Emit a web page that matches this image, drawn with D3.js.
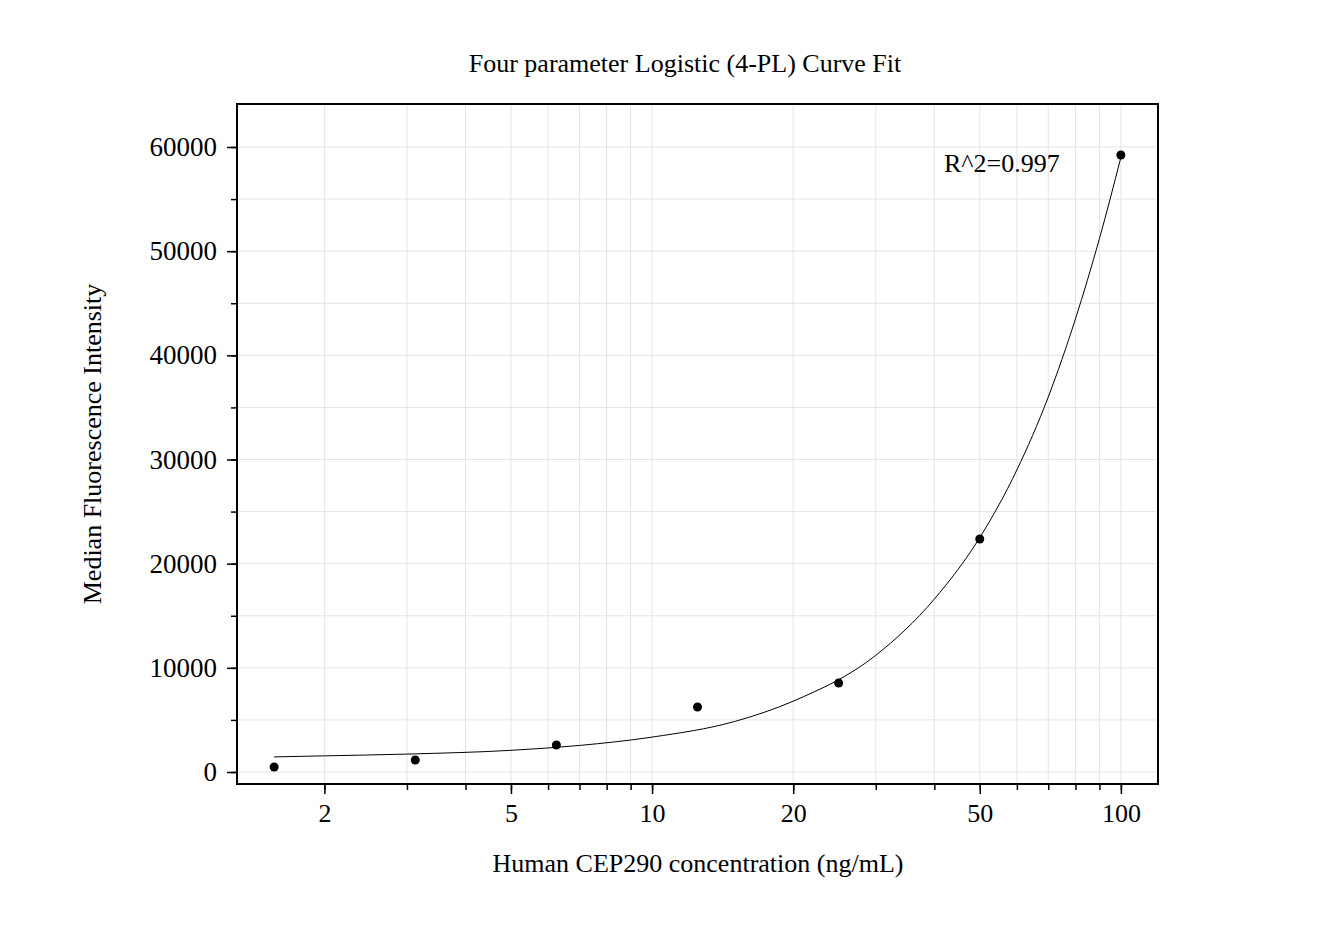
<!DOCTYPE html>
<html><head><meta charset="utf-8">
<script src="https://cdn.jsdelivr.net/npm/d3@7"></script>
<style>body{margin:0;background:#fff}text{font-family:"Liberation Serif","Times New Roman",serif}</style>
</head><body><div id="chart"></div>
<script>
// measured standards
var conc = [1.5625, 3.125, 6.25, 12.5, 25, 50, 100];
var mfi = [480, 1150, 2590, 6240, 8540, 22370, 59230];
// fitted curve
var curveX = [1.5625, 2, 3, 5, 7, 10, 15, 20, 30, 40, 50, 60, 70, 80, 90, 100];
var curveY = [1450, 1550, 1720, 2080, 2550, 3350, 4850, 6800, 11200, 16600, 22500, 29000, 36000, 43500, 51200, 59000];
var xTickLabels = [2, 5, 10, 20, 50, 100];
var yTickLabels = [0, 10000, 20000, 30000, 40000, 50000, 60000];

var W = 1340, H = 935, L = 237, R = 1158, T = 104, B = 784;
var svg = d3.select("#chart").append("svg").attr("width", W).attr("height", H);

var x = d3.scaleLog().domain([1.302, 120]).range([L, R]);
var y = d3.scaleLinear().domain([-1152, 64128]).range([B, T]);

var minorX = [];
[1, 10, 100].forEach(function (d) {
    for (var i = 1; i < 10; i++) { var v = d * i; if (v >= 1.302 && v <= 120) minorX.push(v); }
});
var gridY = d3.range(0, 65000, 5000);

var grid = svg.append("g").attr("stroke", "#e4e4e4").attr("stroke-width", 1);
grid.selectAll(".gx").data(minorX).enter().append("line")
    .attr("x1", function (d) { return x(d); }).attr("x2", function (d) { return x(d); })
    .attr("y1", T).attr("y2", B);
grid.selectAll(".gy").data(gridY).enter().append("line")
    .attr("y1", function (d) { return y(d); }).attr("y2", function (d) { return y(d); })
    .attr("x1", L).attr("x2", R);

// x axis
var gx = svg.append("g").attr("transform", "translate(0," + B + ")")
    .call(d3.axisBottom(x).tickValues(minorX).tickSize(6).tickFormat(""));
gx.select(".domain").remove();
var gx2 = svg.append("g").attr("transform", "translate(0," + B + ")")
    .call(d3.axisBottom(x).tickValues(xTickLabels).tickSize(10).tickPadding(10).tickFormat(d3.format("d")));
gx2.select(".domain").remove();
gx2.selectAll("text").attr("font-size", 26).attr("fill", "#000");

// y axis
var gy = svg.append("g").attr("transform", "translate(" + L + ",0)")
    .call(d3.axisLeft(y).tickValues(gridY).tickSize(6).tickFormat(""));
gy.select(".domain").remove();
var gy2 = svg.append("g").attr("transform", "translate(" + L + ",0)")
    .call(d3.axisLeft(y).tickValues(yTickLabels).tickSize(10).tickPadding(10).tickFormat(d3.format("d")));
gy2.select(".domain").remove();
gy2.selectAll("text").attr("font-size", 27).attr("fill", "#000");
svg.selectAll(".tick line").attr("stroke", "#000").attr("stroke-width", 1.5);

svg.append("rect").attr("x", L).attr("y", T).attr("width", R - L).attr("height", B - T)
    .attr("fill", "none").attr("stroke", "#000").attr("stroke-width", 2);

var line = d3.line().x(function (d, i) { return x(curveX[i]); }).y(function (d) { return y(d); })
    .curve(d3.curveMonotoneX);
svg.append("path").datum(curveY).attr("d", line).attr("fill", "none").attr("stroke", "#000").attr("stroke-width", 1);

svg.selectAll(".pt").data(mfi).enter().append("circle")
    .attr("cx", function (d, i) { return x(conc[i]); }).attr("cy", function (d) { return y(d); })
    .attr("r", 4.5).attr("fill", "#000");

svg.append("text").attr("x", 685).attr("y", 72).attr("text-anchor", "middle").attr("font-size", 26).text("Four parameter Logistic (4-PL) Curve Fit");
svg.append("text").attr("x", 698).attr("y", 872).attr("text-anchor", "middle").attr("font-size", 26).text("Human CEP290 concentration (ng/mL)");
svg.append("text").attr("transform", "translate(101,444) rotate(-90)").attr("text-anchor", "middle").attr("font-size", 26).text("Median Fluorescence Intensity");
svg.append("text").attr("x", 944).attr("y", 172).attr("font-size", 26).text("R^2=0.997");
</script></body></html>
